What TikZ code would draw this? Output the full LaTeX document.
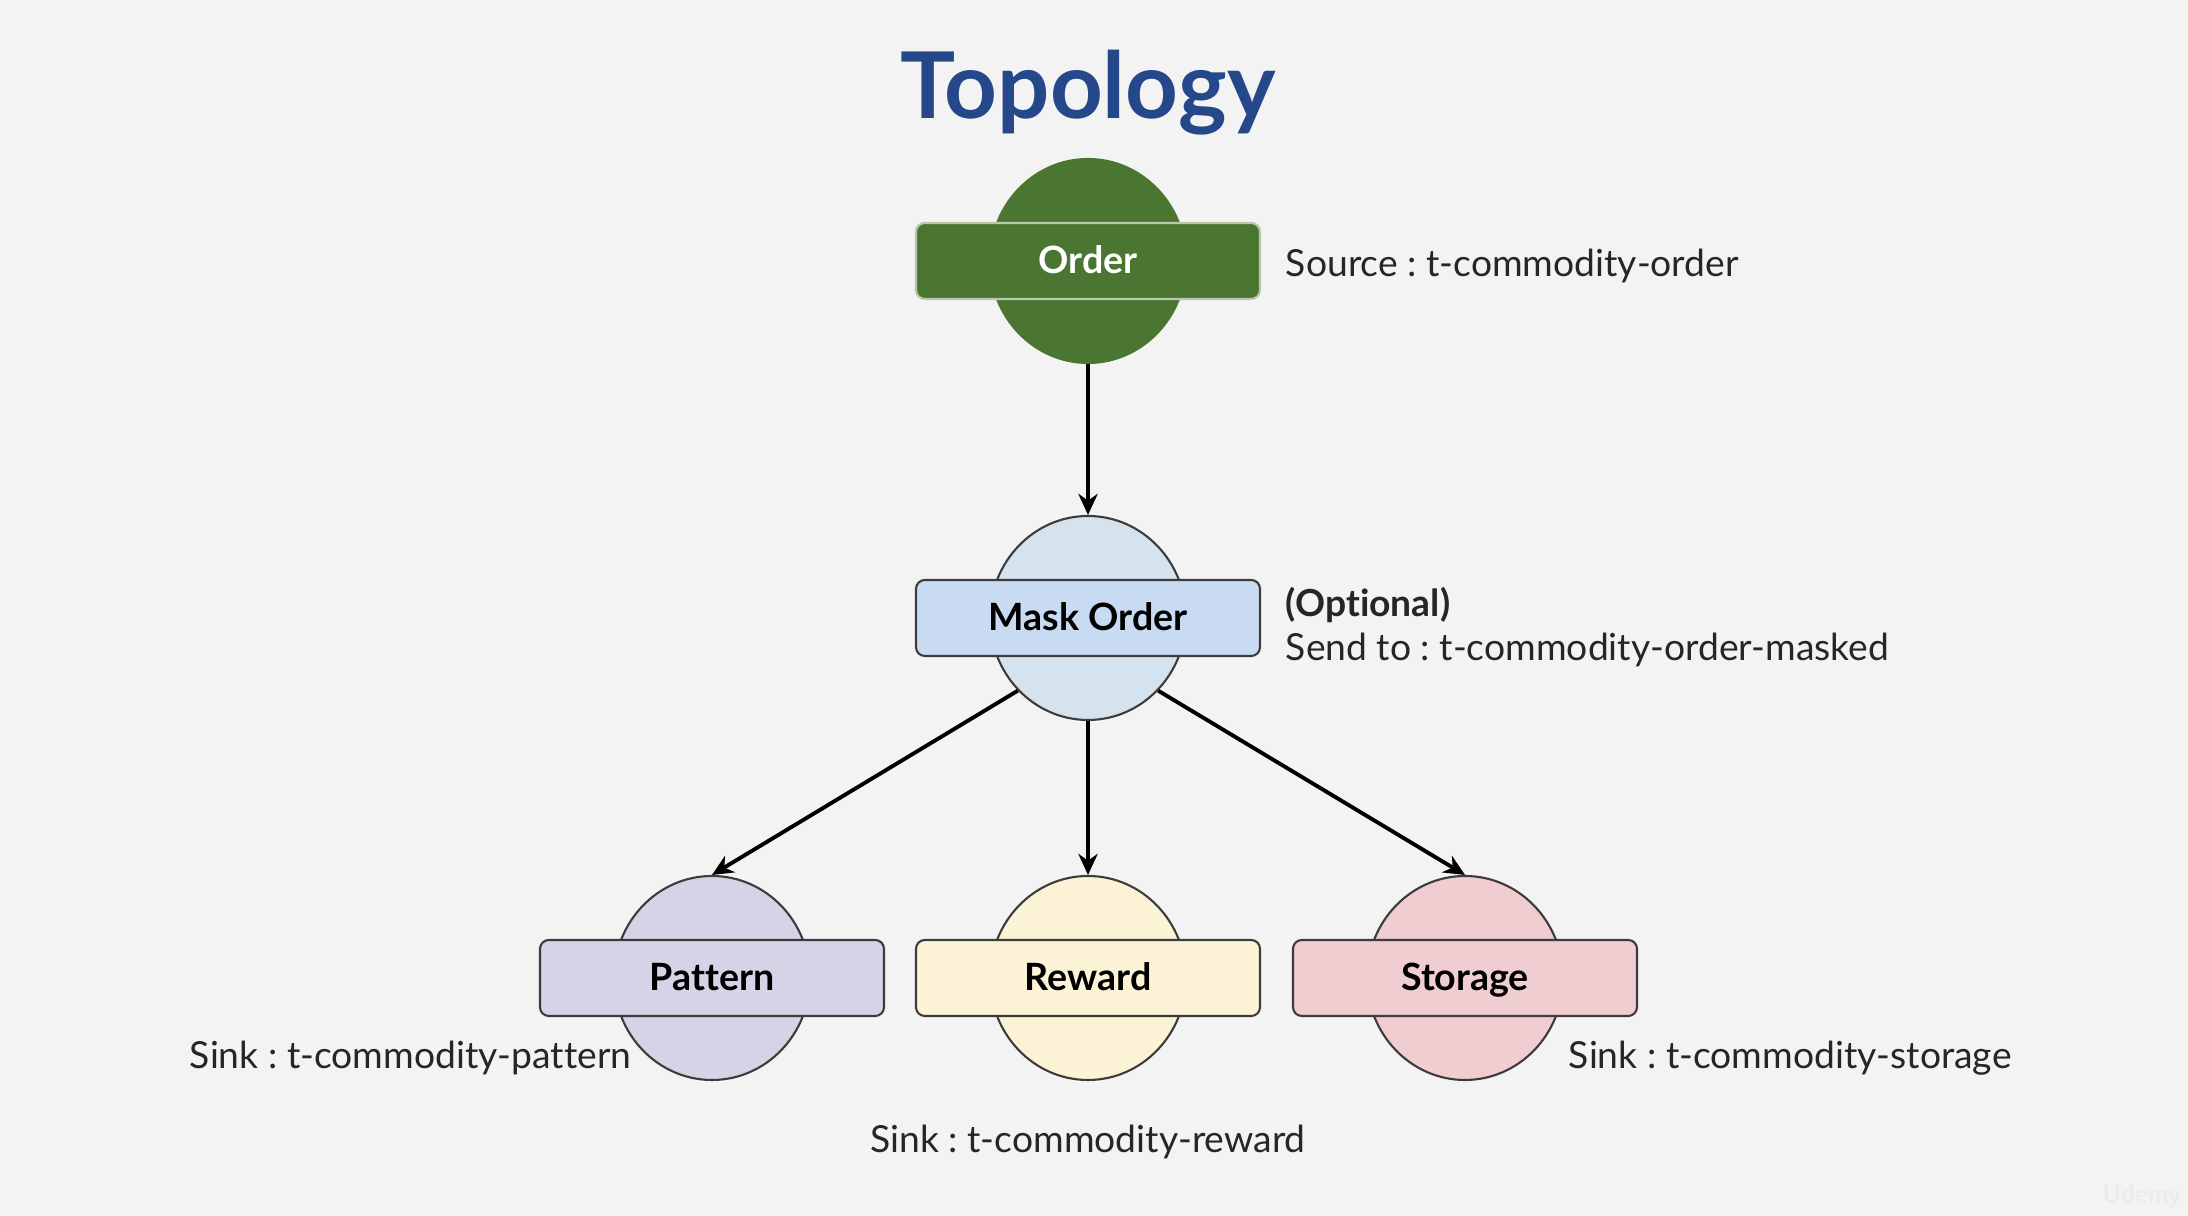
\documentclass[tikz,border=0pt]{standalone}
\usepackage{fontspec}
\setmainfont{Lato}[Ligatures=NoCommon]
\usepackage{xcolor}
\usepackage{tikz}
\usetikzlibrary{arrows.meta,shapes.geometric}
\definecolor{bgcol}{HTML}{F3F3F3}
\definecolor{titleblue}{HTML}{24488A}
\definecolor{edgegray}{HTML}{3C3C3C}
\definecolor{labelgray}{HTML}{262626}
\definecolor{ordergreen}{HTML}{4A7631}
\definecolor{maskdisc}{HTML}{D5E3EE}
\definecolor{maskbar}{HTML}{C9DAF3}
\definecolor{patterncol}{HTML}{D7D2E5}
\definecolor{rewardcol}{HTML}{FCF2D6}
\definecolor{storagecol}{HTML}{EFCDD1}
\frenchspacing

\begin{document}
\begin{tikzpicture}[>={Stealth[length=6pt,width=5.5pt]}, line width=1.1pt,
    disc/.style={ellipse, draw=edgegray, line width=0.6pt, minimum width=1.96cm, minimum height=2.04cm, inner sep=0pt},
    bar/.style={rectangle, rounded corners=2.5pt, draw=edgegray, line width=0.6pt, minimum width=3.44cm, minimum height=0.76cm, text height=0.72em, text depth=0em, font=\fontsize{10.7}{12}\selectfont\bfseries},
    lbl/.style={text=labelgray, font=\fontsize{10.6}{12}\selectfont, inner sep=0pt}]
    \fill [bgcol] (0, 0) rectangle (21.88, 12.16);
    \useasboundingbox (0, 0) rectangle (21.88, 12.16);
    \node (title) at (10.88, 10.97) [anchor=base, inner sep=0pt, text=titleblue, font=\fontsize{26.2}{30}\selectfont\bfseries] {Topology};
    % processors
    \node (orderc) at (10.88, 9.55) [disc, fill=ordergreen, draw=ordergreen] {};
    \node (order) at (10.88, 9.55) [bar, fill=ordergreen, draw=ordergreen!40!white, text=white] {Order};
    \node (maskc) at (10.88, 5.98) [disc, fill=maskdisc] {};
    \node (mask) at (10.88, 5.98) [bar, fill=maskbar] {Mask Order};
    \node (patternc) at (7.12, 2.38) [disc, fill=patterncol] {};
    \node (pattern) at (7.12, 2.38) [bar, fill=patterncol] {Pattern};
    \node (rewardc) at (10.88, 2.38) [disc, fill=rewardcol] {};
    \node (reward) at (10.88, 2.38) [bar, fill=rewardcol] {Reward};
    \node (storagec) at (14.65, 2.38) [disc, fill=storagecol] {};
    \node (storage) at (14.65, 2.38) [bar, fill=storagecol] {Storage};
    % topics
    \node (src) at (12.84, 9.39) [lbl, anchor=base west] {Source : t-commodity-order};
    \node (opt) at (12.84, 5.99) [lbl, anchor=base west, font=\fontsize{10.6}{12}\selectfont\bfseries] {(Optional)};
    \node (send) at (12.84, 5.55) [lbl, anchor=base west] {Send to : t-commodity-order-masked};
    \node (sinkp) at (1.88, 1.47) [lbl, anchor=base west] {Sink : t-commodity-pattern};
    \node (sinks) at (15.67, 1.47) [lbl, anchor=base west] {Sink : t-commodity-storage};
    \node (sinkr) at (10.88, 0.63) [lbl, anchor=base] {Sink : t-commodity-reward};
    \node (mark) at (21.42, 0.20) [inner sep=0pt, text=black!8, font=\fontsize{7}{8}\selectfont\bfseries] {Udemy};
    \draw [->] (orderc) -- (maskc);
    \draw [->] (maskc.-134) -- (patternc.north);
    \draw [->] (maskc) -- (rewardc);
    \draw [->] (maskc.-46) -- (storagec.north);
\end{tikzpicture}
\end{document}
